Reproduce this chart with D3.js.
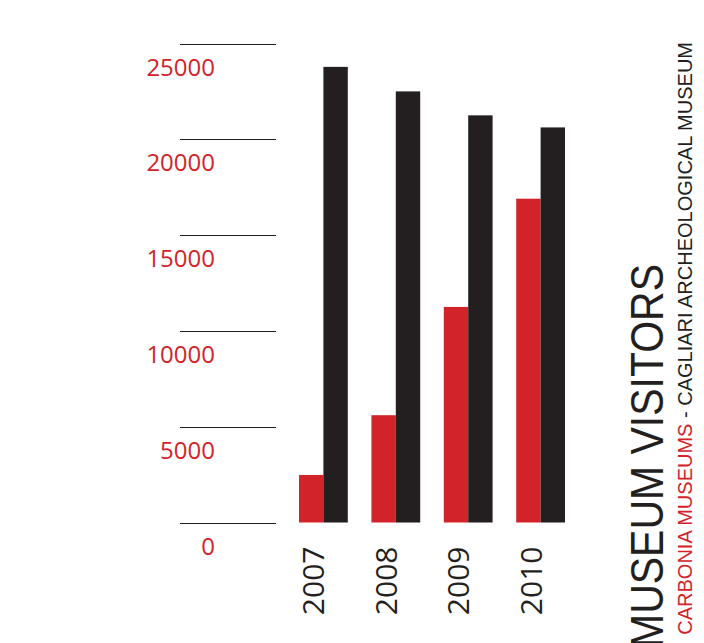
<!DOCTYPE html>
<html>
<head>
<meta charset="utf-8">
<script src="https://cdn.jsdelivr.net/npm/d3@7"></script>
<style>
  html, body { margin: 0; padding: 0; background: #fff; }
  svg { display: block; }
  .tick-label { font-family: "Open Sans", sans-serif; font-size: 24px; fill: #d2232a; }
  .grid-line { stroke: #231f20; stroke-width: 1.2; }
  .year-label { font-family: "Open Sans", sans-serif; font-size: 30px; fill: #231f20; }
  .title { font-family: "Liberation Sans", Arial, sans-serif; font-size: 46px; fill: #231f20; }
  .subtitle { font-family: "Liberation Sans", Arial, sans-serif; font-size: 20px; fill: #231f20; }
  .subtitle .red { fill: #d2232a; }
</style>
</head>
<body>
<div id="chart"></div>
<script>
const years = ["2007", "2008", "2009", "2010"];
const seriesKeys = ["carbonia", "cagliari"];
const carboniaVisitors = [2480, 5600, 11250, 16900];
const cagliariVisitors = [23780, 22500, 21250, 20620];
const yTicks = [0, 5000, 10000, 15000, 20000, 25000];
const titleText = "MUSEUM VISITORS";
const subtitleRed = "CARBONIA MUSEUMS";
const subtitleBlack = " - CAGLIARI ARCHEOLOGICAL MUSEUM";

const width = 704;
const height = 643;
const colors = { carbonia: "#d2232a", cagliari: "#231f20" };

const data = years.map((year, i) => ({
  year,
  carbonia: carboniaVisitors[i],
  cagliari: cagliariVisitors[i],
}));

const svg = d3.select("#chart")
  .append("svg")
  .attr("width", width)
  .attr("height", height)
  .attr("viewBox", [0, 0, width, height]);

const y = d3.scaleLinear().domain([0, 25000]).range([522.5, 43.5]);

const x0 = d3.scaleBand()
  .domain(years)
  .range([299, 565])
  .paddingInner(0.326)
  .paddingOuter(0);

const x1 = d3.scaleBand()
  .domain(seriesKeys)
  .range([0, x0.bandwidth()]);

// grid lines with labels hanging below them
const gGrid = svg.append("g").attr("class", "grid-g");
gGrid.selectAll(".grid-line")
  .data(yTicks)
  .join("line")
  .attr("class", "grid-line")
  .attr("x1", 180)
  .attr("x2", 276)
  .attr("y1", (d) => Math.round(y(d)) + 0.5)
  .attr("y2", (d) => Math.round(y(d)) + 0.5);

gGrid.selectAll(".tick-label")
  .data(yTicks)
  .join("text")
  .attr("class", "tick-label")
  .attr("text-anchor", "end")
  .attr("x", 215)
  .attr("y", (d) => y(d) + 32)
  .text((d) => d);

// bars
const gBars = svg.append("g").attr("class", "bars-g");
gBars.selectAll(".year-g")
  .data(data)
  .join("g")
  .attr("class", "year-g")
  .attr("transform", (d) => `translate(${x0(d.year)},0)`)
  .selectAll("rect")
  .data((d) => seriesKeys.map((key) => ({ key, value: d[key] })))
  .join("rect")
  .attr("x", (d) => x1(d.key))
  .attr("width", x1.bandwidth())
  .attr("y", (d) => y(d.value))
  .attr("height", (d) => y(0) - y(d.value))
  .attr("fill", (d) => colors[d.key]);

// year labels, rotated, reading upward
svg.append("g")
  .attr("class", "years-g")
  .selectAll(".year-label")
  .data(years)
  .join("text")
  .attr("class", "year-label")
  .attr("text-anchor", "end")
  .attr("transform", (d) => `translate(${x0(d) + x0.bandwidth() / 2 + 1},${y(0) + 24}) rotate(-90)`)
  .text((d) => d);

// titles along the right edge
svg.append("text")
  .attr("class", "title")
  .attr("transform", "translate(663,648) rotate(-90)")
  .attr("textLength", 384)
  .attr("lengthAdjust", "spacingAndGlyphs")
  .text(titleText);

const sub = svg.append("text")
  .attr("class", "subtitle")
  .attr("text-anchor", "end")
  .attr("transform", "translate(692,42) rotate(-90)");
sub.append("tspan").attr("class", "red").text(subtitleRed);
sub.append("tspan").text(subtitleBlack);
</script>
</body>
</html>
